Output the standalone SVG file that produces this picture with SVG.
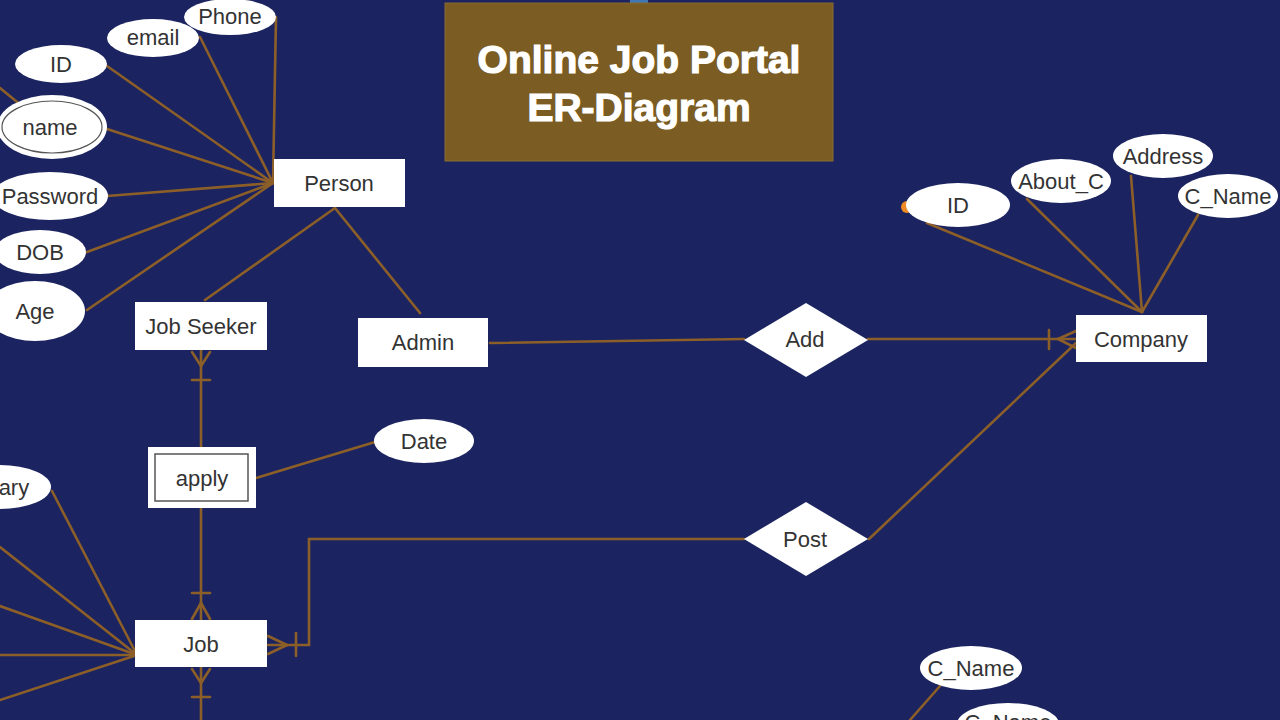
<svg xmlns="http://www.w3.org/2000/svg" width="1280" height="720" viewBox="0 0 1280 720">
<style>
.bg{fill:#1b2460}
.ln{stroke:#8d5f28;stroke-width:2.6;fill:none;stroke-linecap:round}
.ent{fill:#ffffff}
.att{fill:#ffffff}
.rel{fill:#ffffff}
.t{font-family:"Liberation Sans",Arial,sans-serif;font-size:22px;fill:#333333;text-anchor:middle}
.title{font-family:"Liberation Sans",Arial,sans-serif;font-size:39px;font-weight:bold;fill:#ffffff;stroke:#ffffff;stroke-width:1.2;text-anchor:middle}
</style>
<rect class="bg" x="0" y="0" width="1280" height="720"/>
<rect x="630" y="0" width="18" height="4" fill="#3f78b8"/>

<g id="title">
<rect x="445" y="3" width="388" height="158" fill="#7b5c22" stroke="#8a6a30" stroke-width="1"/>
<text class="title" x="639" y="73">Online Job Portal</text>
<text class="title" x="639" y="121">ER-Diagram</text>
</g>

<g id="connectors">
<line class="ln" x1="276" y1="17" x2="273" y2="183"/>
<line class="ln" x1="200" y1="37" x2="273" y2="183"/>
<line class="ln" x1="107" y1="66" x2="273" y2="183"/>
<line class="ln" x1="107" y1="129" x2="273" y2="183"/>
<line class="ln" x1="107" y1="196" x2="273" y2="183"/>
<line class="ln" x1="87" y1="252" x2="273" y2="183"/>
<line class="ln" x1="87" y1="310" x2="273" y2="183"/>
<line class="ln" x1="0" y1="88" x2="22" y2="106"/>
<line class="ln" x1="335" y1="208" x2="205" y2="300"/>
<line class="ln" x1="335" y1="208" x2="420" y2="313"/>
<line class="ln" x1="490" y1="343" x2="744" y2="339"/>
<line class="ln" x1="868" y1="339" x2="1076" y2="339"/>
<line class="ln" x1="1049" y1="330" x2="1049" y2="349"/>
<line class="ln" x1="1076" y1="331" x2="1058" y2="339"/>
<line class="ln" x1="1076" y1="348" x2="1058" y2="339"/>
<line class="ln" x1="869" y1="539" x2="1076" y2="343"/>
<line class="ln" x1="927" y1="223" x2="1142" y2="312"/>
<line class="ln" x1="1027" y1="199" x2="1142" y2="312"/>
<line class="ln" x1="1131" y1="176" x2="1142" y2="312"/>
<line class="ln" x1="1198" y1="215" x2="1142" y2="312"/>
<polyline class="ln" points="744,539 309,539 309,645 268,645"/>
<line class="ln" x1="296" y1="633" x2="296" y2="656"/>
<line class="ln" x1="268" y1="636" x2="287" y2="645"/>
<line class="ln" x1="268" y1="654" x2="287" y2="645"/>
<line class="ln" x1="201" y1="350" x2="201" y2="447"/>
<line class="ln" x1="192" y1="352" x2="201" y2="366"/>
<line class="ln" x1="210" y1="352" x2="201" y2="366"/>
<line class="ln" x1="192" y1="380" x2="210" y2="380"/>
<line class="ln" x1="201" y1="508" x2="201" y2="620"/>
<line class="ln" x1="192" y1="593" x2="210" y2="593"/>
<line class="ln" x1="192" y1="619" x2="201" y2="603"/>
<line class="ln" x1="210" y1="619" x2="201" y2="603"/>
<line class="ln" x1="201" y1="667" x2="201" y2="720"/>
<line class="ln" x1="192" y1="669" x2="201" y2="683"/>
<line class="ln" x1="210" y1="669" x2="201" y2="683"/>
<line class="ln" x1="192" y1="697" x2="210" y2="697"/>
<line class="ln" x1="256" y1="478" x2="375" y2="442"/>
<line class="ln" x1="52" y1="491" x2="137" y2="655"/>
<line class="ln" x1="0" y1="547" x2="137" y2="655"/>
<line class="ln" x1="0" y1="606" x2="137" y2="655"/>
<line class="ln" x1="0" y1="655" x2="137" y2="655"/>
<line class="ln" x1="0" y1="700" x2="137" y2="655"/>
<line class="ln" x1="940" y1="686" x2="910" y2="720"/>
</g>

<g id="phone"><ellipse class="att" cx="230" cy="17" rx="46" ry="18"/><text class="t" x="230" y="24">Phone</text></g>
<g id="email"><ellipse class="att" cx="153" cy="38" rx="46" ry="19"/><text class="t" x="153" y="45">email</text></g>
<g id="person-id"><ellipse class="att" cx="61" cy="64" rx="46" ry="19"/><text class="t" x="61" y="72">ID</text></g>
<g id="name"><ellipse class="att" cx="52" cy="127" rx="55" ry="32"/><ellipse cx="52" cy="127" rx="50" ry="26" fill="none" stroke="#555555" stroke-width="1.2"/><text class="t" x="50" y="135">name</text></g>
<g id="password"><ellipse class="att" cx="50" cy="196" rx="58" ry="24"/><text class="t" x="50" y="204">Password</text></g>
<g id="dob"><ellipse class="att" cx="40" cy="252" rx="46" ry="22"/><text class="t" x="40" y="260">DOB</text></g>
<g id="age"><ellipse class="att" cx="35" cy="311" rx="50" ry="30"/><text class="t" x="35" y="319">Age</text></g>

<g id="person"><rect class="ent" x="274" y="159" width="131" height="48"/><text class="t" x="339" y="191">Person</text></g>
<g id="job-seeker"><rect class="ent" x="135" y="302" width="132" height="48"/><text class="t" x="201" y="334">Job Seeker</text></g>
<g id="admin"><rect class="ent" x="358" y="318" width="130" height="49"/><text class="t" x="423" y="350">Admin</text></g>

<g id="add"><polygon class="rel" points="744,340 806,303 868,340 806,377"/><text class="t" x="805" y="347">Add</text></g>
<g id="post"><polygon class="rel" points="744,539 806,502 868,539 806,576"/><text class="t" x="805" y="547">Post</text></g>

<g id="company"><rect class="ent" x="1076" y="315" width="131" height="47"/><text class="t" x="1141" y="347">Company</text></g>
<g id="company-id"><circle cx="907" cy="207" r="6" fill="#f08a24"/><ellipse class="att" cx="958" cy="205" rx="52" ry="22"/><text class="t" x="958" y="213">ID</text></g>
<g id="about-c"><ellipse class="att" cx="1061" cy="181" rx="50" ry="22"/><text class="t" x="1061" y="189">About_C</text></g>
<g id="address"><ellipse class="att" cx="1163" cy="156" rx="50" ry="22"/><text class="t" x="1163" y="164">Address</text></g>
<g id="c-name"><ellipse class="att" cx="1228" cy="196" rx="50" ry="22"/><text class="t" x="1228" y="204">C_Name</text></g>

<g id="apply"><rect class="ent" x="148" y="447" width="108" height="61"/><rect x="155" y="454" width="93" height="47" fill="none" stroke="#555555" stroke-width="1.5"/><text class="t" x="202" y="486">apply</text></g>
<g id="date"><ellipse class="att" cx="424" cy="441" rx="50" ry="22"/><text class="t" x="424" y="449">Date</text></g>

<g id="job"><rect class="ent" x="135" y="620" width="132" height="47"/><text class="t" x="201" y="652">Job</text></g>
<g id="salary"><ellipse class="att" cx="0" cy="487" rx="51" ry="22"/><text class="t" x="-2" y="495">Salary</text></g>

<g id="c-name-2"><ellipse class="att" cx="971" cy="668" rx="51" ry="22"/><text class="t" x="971" y="676">C_Name</text></g>
<g id="c-name-3"><ellipse class="att" cx="1008" cy="724" rx="51" ry="21"/><text class="t" x="1008" y="730">C_Name</text></g>
</svg>
